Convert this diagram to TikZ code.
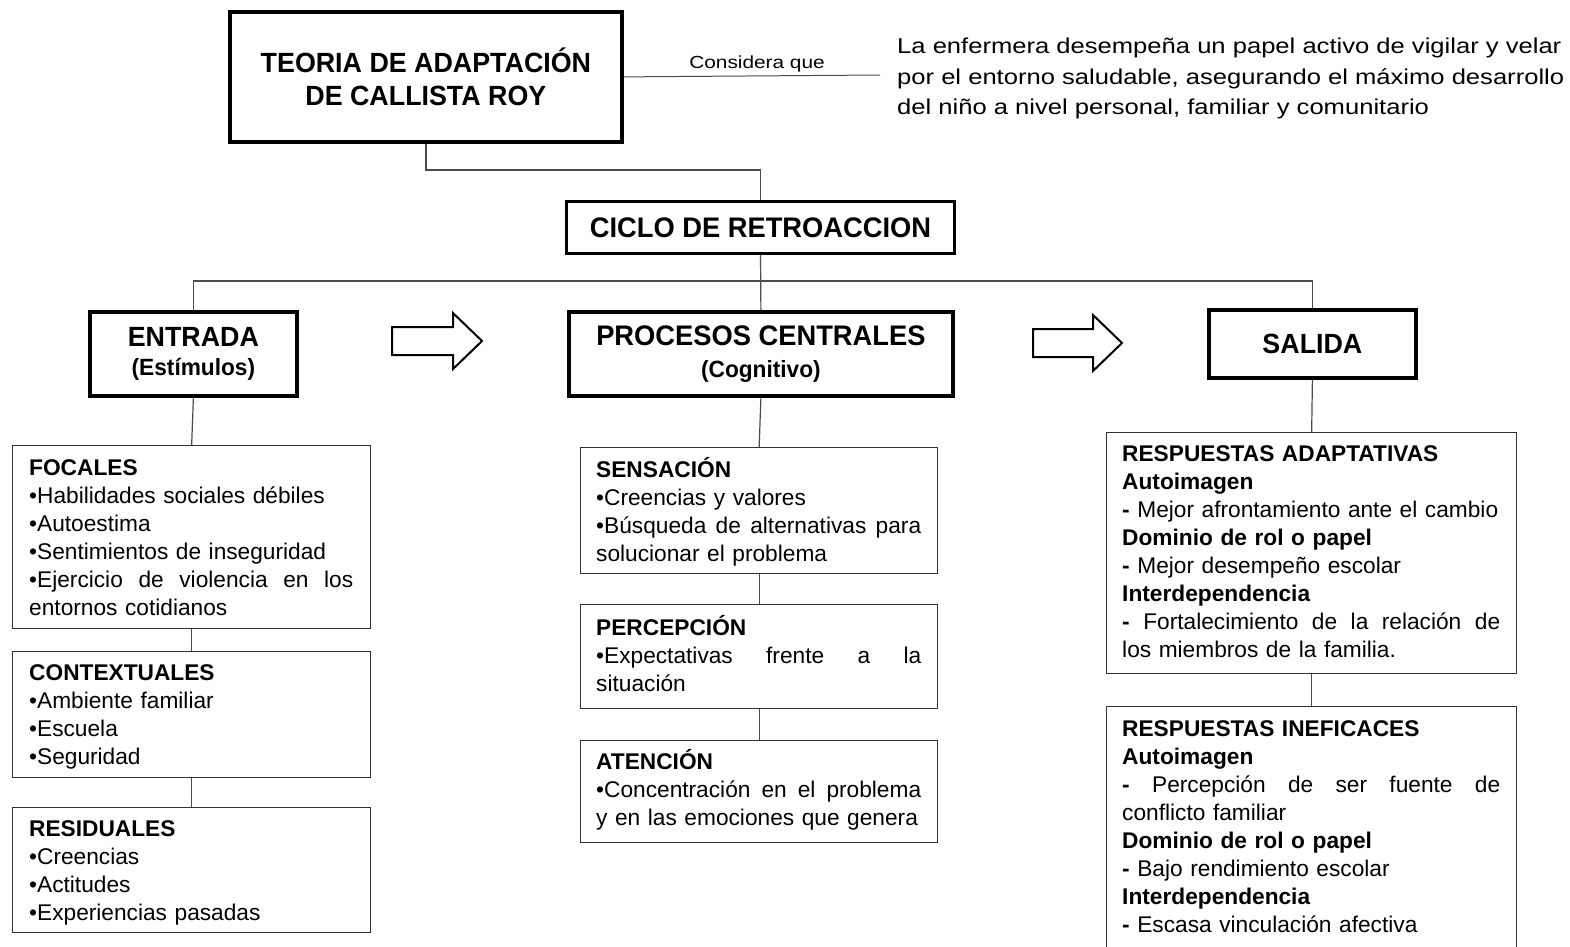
\documentclass[tikz,border=0pt]{standalone}
\usepackage{fontspec}
\setmainfont{Liberation Sans}
\newfontfamily\wideface[FakeStretch=1.19]{Liberation Sans}
\newfontfamily\titleface[FakeStretch=0.965]{Liberation Sans}
\newcommand{\JL}[2]{\leavevmode\hbox to #1{#2}}
\tikzset{
  heavybox/.style={draw=black, line width=3.8pt, inner sep=0pt, anchor=north west, align=center},
  lightbox/.style={draw=black!80, line width=1.3pt, inner sep=0pt, anchor=north west},
  bodytxt/.style={inner sep=0pt, anchor=north west, align=left, text width=440pt, font=\fontsize{22.7}{28}\selectfont},
  conn/.style={draw=black!70, line width=1.2pt},
  blockarrow/.style={draw=black, line width=2pt, fill=white, line join=miter}
}
\begin{document}
\begin{tikzpicture}[x=1pt,y=-1pt]
\useasboundingbox (0,0) rectangle (1570,946);
\clip (0,0) rectangle (1570,946);
\fill[white] (0,0) rectangle (1570,946);

% heavy boxes
\node[heavybox, minimum width=392pt, minimum height=130pt, font=\titleface\bfseries\fontsize{27.8}{33}\selectfont] (teoria) at (228,10) {TEORIA DE ADAPTACIÓN\\DE CALLISTA ROY};
\node[heavybox, line width=3pt, minimum width=388pt, minimum height=52pt, font=\titleface\bfseries\fontsize{28.3}{30}\selectfont] (ciclo) at (565,200) {CICLO DE RETROACCION};
\node[heavybox, minimum width=207pt, minimum height=84pt, font=\titleface\bfseries\fontsize{27.8}{29.5}\selectfont] (entrada) at (88,310) {ENTRADA\\{\fontsize{23.5}{28}\selectfont (Estímulos)}};
\node[heavybox, minimum width=384pt, minimum height=84pt, font=\titleface\bfseries\fontsize{28.3}{31.5}\selectfont] (procesos) at (567,310) {PROCESOS CENTRALES\\{\fontsize{23.5}{28}\selectfont (Cognitivo)}};
\node[heavybox, minimum width=207pt, minimum height=68pt, font=\titleface\bfseries\fontsize{27.8}{30}\selectfont] (salida) at (1207,308) {SALIDA};

% consider text
\coordinate (consEnd) at (880,75);
\draw[conn, line width=1pt] (teoria.east) -- node[pos=0.52, above=3pt, inner sep=0pt, font=\wideface\fontsize{17.5}{20}\selectfont] (consLbl) {Considera que} (consEnd);
\node[inner sep=0pt, anchor=north west, align=left, font=\wideface\fontsize{21.5}{30.5}\selectfont] (nota) at (897,32) {\strut La enfermera desempeña un papel activo de vigilar y velar\\por el entorno saludable, asegurando el máximo desarrollo\\del niño a nivel personal, familiar y comunitario};

% block arrows
\draw[blockarrow] (392,327) -- (453,327) -- (453,313) -- (482,341) -- (453,369) -- (453,355) -- (392,355) -- cycle;
\draw[blockarrow] (1033,329) -- (1093,329) -- (1093,315) -- (1122,343) -- (1093,371) -- (1093,357) -- (1033,357) -- cycle;

% light boxes
\node[lightbox, minimum width=358pt, minimum height=183pt] (focales) at (12,445) {};
\node[lightbox, minimum width=358pt, minimum height=126pt] (context) at (12,651) {};
\node[lightbox, minimum width=358pt, minimum height=125pt] (resid) at (12,807) {};
\node[lightbox, minimum width=357pt, minimum height=126pt] (sens) at (580,447) {};
\node[lightbox, minimum width=357pt, minimum height=104pt] (perc) at (580,604) {};
\node[lightbox, minimum width=357pt, minimum height=102pt] (aten) at (580,740) {};
\node[lightbox, minimum width=410pt, minimum height=241pt] (adapt) at (1106,432) {};
\node[lightbox, minimum width=410pt, minimum height=260pt] (inef) at (1106,706) {};

% texts
\node[bodytxt] (focalesT) at ([shift={(17,10.5)}]focales.north west) {\strut\textbf{FOCALES}\\•Habilidades sociales débiles\\•Autoestima\\•Sentimientos de inseguridad\\\JL{324pt}{•Ejercicio\hfill de\hfill violencia\hfill en\hfill los}\\entornos cotidianos};
\node[bodytxt] (contextT) at ([shift={(17,9.5)}]context.north west) {\strut\textbf{CONTEXTUALES}\\•Ambiente familiar\\•Escuela\\•Seguridad};
\node[bodytxt] (residT) at ([shift={(17,9.5)}]resid.north west) {\strut\textbf{RESIDUALES}\\•Creencias\\•Actitudes\\•Experiencias pasadas};
\node[bodytxt] (sensT) at ([shift={(16,10.5)}]sens.north west) {\strut\textbf{SENSACIÓN}\\•Creencias y valores\\\JL{325pt}{•Búsqueda\hfill de\hfill alternativas\hfill para}\\solucionar el problema};
\node[bodytxt] (percT) at ([shift={(16,11.5)}]perc.north west) {\strut\textbf{PERCEPCIÓN}\\\JL{325pt}{•Expectativas\hfill frente\hfill a\hfill la}\\situación};
\node[bodytxt] (atenT) at ([shift={(16,9.5)}]aten.north west) {\strut\textbf{ATENCIÓN}\\\JL{325pt}{•Concentración\hfill en\hfill el\hfill problema}\\y en las emociones que genera};
\node[bodytxt] (adaptT) at ([shift={(16,9.5)}]adapt.north west) {\strut\textbf{RESPUESTAS ADAPTATIVAS}\\\textbf{Autoimagen}\\\textbf{-} Mejor afrontamiento ante el cambio\\\textbf{Dominio de rol o papel}\\\textbf{-} Mejor desempeño escolar\\\textbf{Interdependencia}\\\JL{378pt}{\textbf{-}\hfill Fortalecimiento\hfill de\hfill la\hfill relación\hfill de}\\los miembros de la familia.};
\node[bodytxt] (inefT) at ([shift={(16,10.5)}]inef.north west) {\strut\textbf{RESPUESTAS INEFICACES}\\\textbf{Autoimagen}\\\JL{378pt}{\textbf{-}\hfill Percepción\hfill de\hfill ser\hfill fuente\hfill de}\\conflicto familiar\\\textbf{Dominio de rol o papel}\\\textbf{-} Bajo rendimiento escolar\\\textbf{Interdependencia}\\\textbf{-} Escasa vinculación afectiva};

% connectors
\coordinate (bus) at (ciclo.south |- 0,281);
\coordinate (elbow) at (ciclo.north |- 0,170);
\draw[conn] (teoria.south) |- (elbow) -- (ciclo.north);
\draw[conn] (ciclo.south) -- (procesos.north);
\draw[conn] (entrada.north) |- (bus) -| (salida.north);
\draw[conn] (entrada.south) -- (focales.north);
\draw[conn] (focales.south) -- (context.north);
\draw[conn] (context.south) -- (resid.north);
\draw[conn] (procesos.south) -- (sens.north);
\draw[conn] (sens.south) -- (perc.north);
\draw[conn] (perc.south) -- (aten.north);
\draw[conn] (salida.south) -- (adapt.north);
\draw[conn] (adapt.south) -- (inef.north);
\end{tikzpicture}
\end{document}
